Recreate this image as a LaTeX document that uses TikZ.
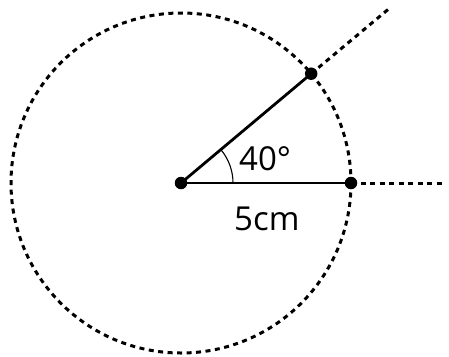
\documentclass[tikz,border=0pt]{standalone}
\usepackage{fontspec}
\setmainfont{Open Sans}
\begin{document}
\begin{tikzpicture}[x=1pt,y=-1pt,
  dashline/.style={line width=3pt,dash pattern=on 5pt off 4.5pt},
  solidline/.style={line width=2.8pt},
  dotnode/.style={circle,fill=black,inner sep=0pt,minimum size=12.5pt},
  lbl/.style={font=\fontsize{33}{33}\selectfont,inner sep=0pt,anchor=base west}]
\useasboundingbox (0,0) rectangle (449,356);
\coordinate (O) at (181,183);
\coordinate (R) at (351,183);
\coordinate (P) at (311.2,73.7);
\coordinate (Rend) at (445,183);
\coordinate (Pend) at (391,7);
\draw[dashline] (O) circle[radius=170];
\draw[dashline] (R) -- (Rend);
\draw[dashline] (P) -- (Pend);
\draw[solidline] (O) -- (R);
\draw[solidline] (O) -- (P);
\draw[line width=1.1pt] (233,183) arc[start angle=0,end angle=-40,radius=52];
\node[dotnode] (c) at (O) {};
\node[dotnode] (a) at (R) {};
\node[dotnode] (b) at (P) {};
\node[lbl] (ang) at (239,170) {40°};
\node[lbl] (len) at (234,230) {5cm};
\end{tikzpicture}
\end{document}
